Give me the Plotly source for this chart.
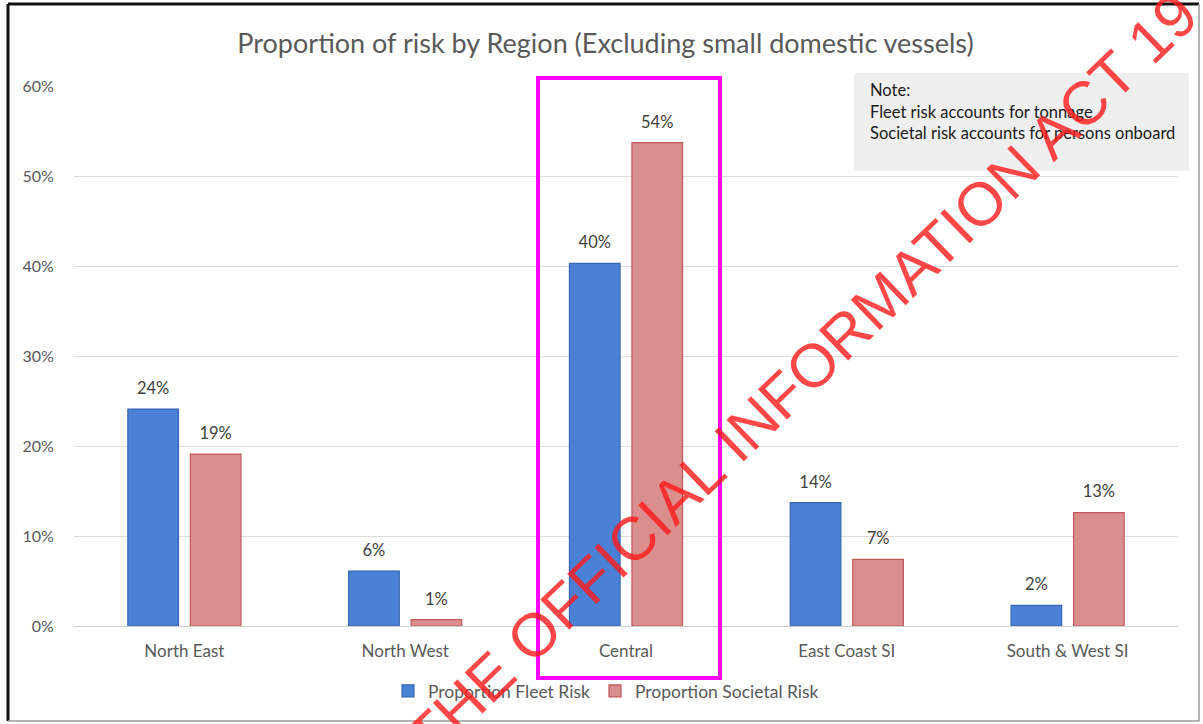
import plotly.graph_objects as go

regions = ["North East", "North West", "Central", "East Coast SI", "South & West SI"]
fleet_risk = [0.241, 0.061, 0.403, 0.137, 0.023]
societal_risk = [0.191, 0.007, 0.537, 0.074, 0.126]
series_names = ["Proportion Fleet Risk", "Proportion Societal Risk"]
y_ticks = [0, 0.1, 0.2, 0.3, 0.4, 0.5, 0.6]
title_text = "Proportion of risk by Region (Excluding small domestic vessels)"
note_lines = ["Note:", "Fleet risk accounts for tonnage", "Societal risk accounts for persons onboard"]
watermark = "THE OFFICIAL INFORMATION ACT 19"

FONT = "Lato, Open Sans, sans-serif"
W, H = 1203, 724
L, R, T, B = 74, 25, 86, 98
PW, PH = W - L - R, H - T - B
BARGAP = 0.434

def px(x):
    return (x - L) / PW

def py(y):
    return (H - B - y) / PH

fig = go.Figure()
fig.add_trace(go.Bar(
    x=regions, y=fleet_risk, name=series_names[0],
    marker=dict(color="#4A80D6", line=dict(color="#3566B4", width=1.2)),
    hoverinfo="x+y",
))
fig.add_trace(go.Bar(
    x=regions, y=societal_risk, name=series_names[1],
    marker=dict(color="#DB8E8E", line=dict(color="#BF5858", width=1.2)),
    hoverinfo="x+y",
))
# data labels, grouped like the bars
for vals in (fleet_risk, societal_risk):
    fig.add_trace(go.Scatter(
        x=regions, y=vals, mode="markers+text",
        texttemplate="%{y:.0%}", textposition="top center",
        marker=dict(size=16, color="rgba(0,0,0,0)"),
        textfont=dict(family=FONT, size=16.5, color="#404040"),
        showlegend=False, hoverinfo="skip", cliponaxis=False,
    ))

shapes = [
    dict(type="rect", xref="paper", yref="paper", x0=px(854), x1=px(1189), y0=py(171), y1=py(73),
         fillcolor="#EFEFEF", line=dict(width=0), layer="below"),
    dict(type="rect", xref="paper", yref="paper", x0=px(538), x1=px(720), y0=py(678), y1=py(78),
         line=dict(color="#FF00FF", width=4)),
    dict(type="line", xref="paper", yref="paper", x0=px(8), x1=px(8), y0=py(4), y1=py(721),
         line=dict(color="#111111", width=3)),
    dict(type="line", xref="paper", yref="paper", x0=px(8), x1=px(1199), y0=py(4), y1=py(4),
         line=dict(color="#111111", width=3)),
    dict(type="line", xref="paper", yref="paper", x0=px(1199), x1=px(1199), y0=py(4), y1=py(721),
         line=dict(color="#9A9A9A", width=1.5)),
    dict(type="line", xref="paper", yref="paper", x0=px(8), x1=px(1199), y0=py(721), y1=py(721),
         line=dict(color="#9A9A9A", width=1.5)),
]

annotations = []
for line, yy in zip(note_lines, [90, 112, 133]):
    annotations.append(dict(
        text=line, xref="paper", yref="paper", x=px(868), y=py(yy),
        xanchor="left", yanchor="middle", showarrow=False,
        font=dict(family=FONT, size=16.5, color="#1A1A1A"),
    ))
annotations.append(dict(
    text=watermark, xref="paper", yref="paper", x=px(802), y=py(376),
    xanchor="center", yanchor="middle", showarrow=False, textangle=-44,
    font=dict(family="Liberation Sans, Arial, sans-serif", size=61, color="rgba(255,25,25,0.8)"),
))

fig.update_layout(
    width=W, height=H,
    margin=dict(l=L, r=R, t=T, b=B),
    paper_bgcolor="white", plot_bgcolor="white",
    title=dict(text=title_text, x=605.5 / W, xref="container", xanchor="center",
               y=1 - 44 / H, yanchor="middle",
               font=dict(family=FONT, size=27, color="#595959")),
    barmode="group", bargap=BARGAP, bargroupgap=0.19,
    scattermode="group", scattergap=BARGAP,
    showlegend=True,
    legend=dict(orientation="h", x=px(606), xanchor="center", y=py(691), yanchor="middle",
                bgcolor="rgba(0,0,0,0)",
                font=dict(family=FONT, size=17.5, color="#595959"),
                itemwidth=30, traceorder="normal"),
    shapes=shapes, annotations=annotations,
)
fig.update_xaxes(
    showgrid=False, showline=False, zeroline=False,
    ticks="outside", ticklen=10, tickcolor="rgba(0,0,0,0)",
    tickfont=dict(family=FONT, size=17, color="#595959"),
)
fig.update_yaxes(
    range=[0, 0.6], tickvals=y_ticks, tickformat=".0%",
    showgrid=True, gridcolor="#DCDCDC", gridwidth=1,
    zeroline=True, zerolinecolor="#CFCFCF", zerolinewidth=1.2,
    showline=False, ticks="outside", ticklen=16, tickcolor="rgba(0,0,0,0)",
    tickfont=dict(family=FONT, size=16, color="#595959"),
)

fig.write_html("out.html")
